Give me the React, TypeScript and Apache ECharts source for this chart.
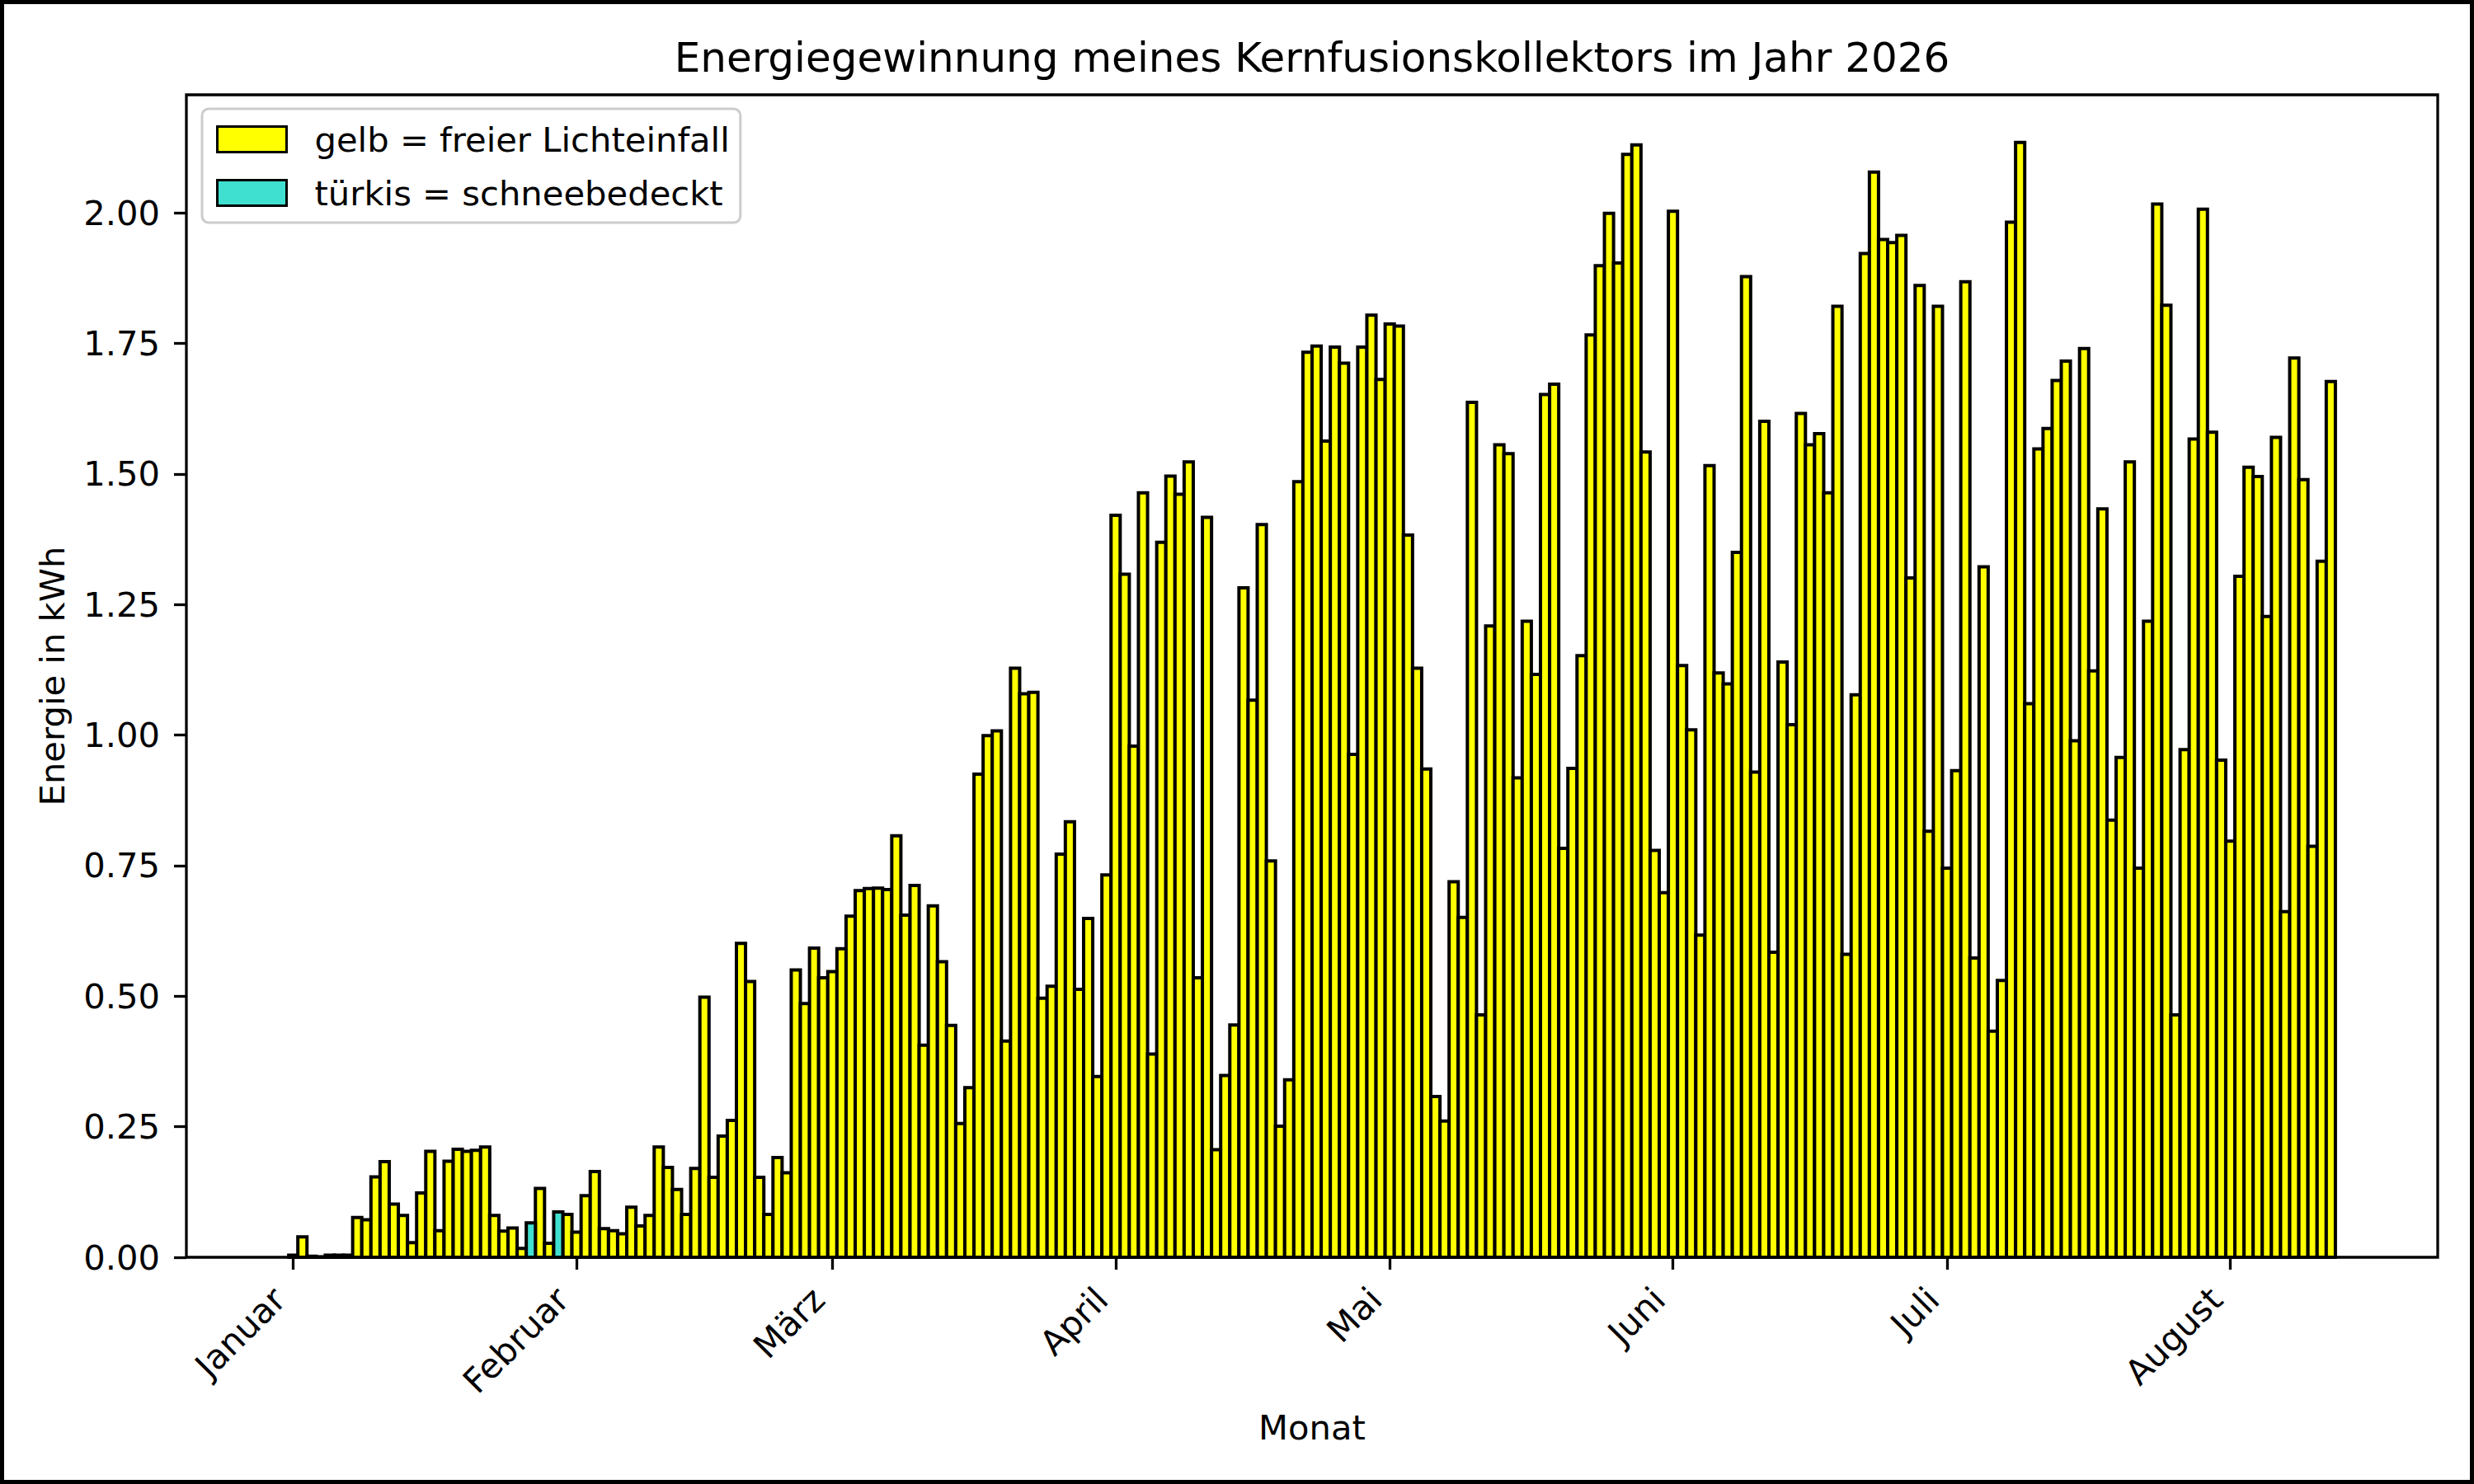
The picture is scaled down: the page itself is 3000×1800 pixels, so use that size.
import React, { useEffect, useRef } from "react";
import * as echarts from "echarts";

const monate = ["Januar", "Februar", "März", "April", "Mai", "Juni", "Juli", "August"];
const monatsStart = [0, 31, 59, 90, 120, 151, 181, 212];
const yTicks = [0, 0.25, 0.5, 0.75, 1.0, 1.25, 1.5, 1.75, 2.0];

const januar = [
  0.004, 0.039, 0.002, 0.001, 0.004, 0.004, 0.004, 0.076, 0.072, 0.154,
  0.183, 0.102, 0.080, 0.028, 0.123, 0.203, 0.051, 0.184, 0.207, 0.203,
  0.205, 0.211, 0.080, 0.050, 0.056, 0.017, 0.066, 0.132, 0.027, 0.087,
  0.082,
];
const februar = [
  0.048, 0.118, 0.164, 0.055, 0.051, 0.045, 0.096, 0.060, 0.080, 0.211,
  0.172, 0.130, 0.082, 0.170, 0.498, 0.153, 0.232, 0.262, 0.601, 0.528,
  0.153, 0.082, 0.191, 0.162, 0.550, 0.486, 0.592, 0.535,
];
const maerz = [
  0.547, 0.591, 0.653, 0.702, 0.706, 0.707, 0.704, 0.807, 0.655, 0.712,
  0.406, 0.673, 0.566, 0.444, 0.256, 0.325, 0.925, 0.999, 1.008, 0.414,
  1.128, 1.079, 1.082, 0.496, 0.519, 0.772, 0.834, 0.513, 0.649, 0.346,
  0.732,
];
const april = [
  1.421, 1.308, 0.979, 1.464, 0.389, 1.369, 1.496, 1.461, 1.523, 0.535,
  1.417, 0.206, 0.348, 0.445, 1.282, 1.067, 1.403, 0.759, 0.251, 0.340,
  1.485, 1.733, 1.745, 1.563, 1.743, 1.712, 0.963, 1.743, 1.804, 1.681,
];
const mai = [
  1.787, 1.783, 1.383, 1.128, 0.935, 0.308, 0.261, 0.719, 0.651, 1.637,
  0.464, 1.209, 1.556, 1.539, 0.918, 1.218, 1.116, 1.652, 1.672, 0.783,
  0.936, 1.152, 1.766, 1.899, 1.999, 1.904, 2.112, 2.130, 1.542, 0.779,
  0.698,
];
const juni = [
  2.003, 1.133, 1.010, 0.617, 1.516, 1.119, 1.098, 1.350, 1.878, 0.929,
  1.601, 0.584, 1.140, 1.020, 1.616, 1.556, 1.577, 1.464, 1.821, 0.580,
  1.077, 1.922, 2.078, 1.949, 1.943, 1.957, 1.301, 1.861, 0.816, 1.821,
];
const juli = [
  0.745, 0.932, 1.868, 0.573, 1.322, 0.433, 0.530, 1.982, 2.135, 1.060,
  1.548, 1.587, 1.679, 1.716, 0.989, 1.740, 1.123, 1.433, 0.837, 0.957,
  1.523, 0.745, 1.218, 2.017, 1.823, 0.464, 0.972, 1.567, 2.007, 1.580,
  0.952,
];
const august = [
  0.797, 1.304, 1.513, 1.495, 1.227, 1.570, 0.662, 1.722, 1.489, 0.787,
  1.333, 1.677,
];
// Tage (Index ab 1. Januar) mit Schneebedeckung
const schneeTage = [26, 29];

const FONT = "DejaVu Sans";
const X_MIN = -11.7;
const X_MAX = 234.7;

// Balken mit voller Tagesbreite, über die Achsen der Bibliothek positioniert
const balken = (fill: string) => (params: any, api: any) => {
  const tag = api.value(0);
  const wert = api.value(1);
  const unten = api.coord([tag - 0.5, 0]);
  const oben = api.coord([tag + 0.5, wert]);
  return {
    type: "rect",
    shape: {
      x: unten[0],
      y: oben[1],
      width: oben[0] - unten[0],
      height: unten[1] - oben[1],
    },
    style: { fill, stroke: "#000", lineWidth: 4 },
  };
};

export default function App() {
  const ref = useRef<HTMLDivElement>(null);

  useEffect(() => {
    document.body.style.margin = "0";
    const chart = echarts.init(ref.current!, null, { renderer: "svg" });
    const werte = [...januar, ...februar, ...maerz, ...april, ...mai, ...juni, ...juli, ...august];
    const gelb: [number, number][] = [];
    const tuerkis: [number, number][] = [];
    werte.forEach((v, i) => {
      if (schneeTage.includes(i)) tuerkis.push([i, v]);
      else gelb.push([i, v]);
    });

    chart.setOption({
      animation: false,
      textStyle: { fontFamily: FONT, color: "#000" },
      title: {
        text: "Energiegewinnung meines Kernfusionskollektors im Jahr 2026",
        left: 1591,
        textAlign: "center",
        top: 45,
        padding: 0,
        textStyle: { fontSize: 50, fontWeight: "normal", fontFamily: FONT, color: "#000" },
      },
      graphic: [
        {
          type: "rect",
          shape: { x: 0, y: 0, width: 3000, height: 1800 },
          style: { fill: "none", stroke: "#000", lineWidth: 10 },
          silent: true,
        },
      ],
      legend: {
        orient: "vertical",
        left: 245,
        top: 132,
        padding: [16, 13, 15, 17],
        itemWidth: 84,
        itemHeight: 31,
        itemGap: 23,
        icon: "rect",
        backgroundColor: "#fff",
        borderColor: "#cccccc",
        borderWidth: 3,
        borderRadius: 8,
        itemStyle: { borderColor: "#000", borderWidth: 3 },
        textStyle: {
          fontSize: 41.7,
          fontFamily: FONT,
          color: "#000",
          lineHeight: 40,
          padding: [0, 0, 0, 29],
        },
        data: [
          { name: "gelb = freier Lichteinfall", itemStyle: { color: "#ffff00" } },
          { name: "türkis = schneebedeckt", itemStyle: { color: "#40e0d0" } },
        ],
        z: 10,
      },
      grid: {
        left: 226,
        top: 115,
        width: 2730,
        height: 1410,
        show: true,
        borderColor: "#000",
        borderWidth: 3.3,
        backgroundColor: "transparent",
      },
      xAxis: {
        type: "value",
        min: X_MIN,
        max: X_MAX,
        name: "Monat",
        nameLocation: "middle",
        nameGap: 185,
        nameTextStyle: { fontSize: 41.7, fontFamily: FONT, color: "#000" },
        axisLine: { show: false, onZero: false },
        splitLine: { show: false },
        axisTick: {
          show: true,
          length: 15,
          lineStyle: { color: "#000", width: 3.3 },
          customValues: monatsStart,
        },
        axisLabel: {
          customValues: monatsStart,
          rotate: 45,
          margin: 27,
          padding: [0, 24, 0, 0],
          fontSize: 41.7,
          fontFamily: FONT,
          color: "#000",
          formatter: (v: number) => monate[monatsStart.indexOf(Math.round(v))] ?? "",
        },
      },
      yAxis: {
        type: "value",
        min: 0,
        max: 2.226,
        name: "Energie in kWh",
        nameLocation: "middle",
        nameGap: 142,
        nameTextStyle: { fontSize: 41.7, fontFamily: FONT, color: "#000" },
        axisLine: { show: false, onZero: false },
        splitLine: { show: false },
        axisTick: {
          show: true,
          length: 15,
          lineStyle: { color: "#000", width: 3.3 },
          customValues: yTicks,
        },
        axisLabel: {
          customValues: yTicks,
          margin: 32,
          fontSize: 41.7,
          fontFamily: FONT,
          color: "#000",
          formatter: (v: number) => v.toFixed(2),
        },
      },
      series: [
        {
          name: "gelb = freier Lichteinfall",
          type: "custom",
          data: gelb,
          encode: { x: 0, y: 1 },
          itemStyle: { color: "#ffff00", borderColor: "#000", borderWidth: 4 },
          renderItem: balken("#ffff00"),
          z: 2,
        },
        {
          name: "türkis = schneebedeckt",
          type: "custom",
          data: tuerkis,
          encode: { x: 0, y: 1 },
          itemStyle: { color: "#40e0d0", borderColor: "#000", borderWidth: 4 },
          renderItem: balken("#40e0d0"),
          z: 2,
        },
      ],
    });
    return () => chart.dispose();
  }, []);

  return <div ref={ref} style={{ width: 3000, height: 1800 }} />;
}
